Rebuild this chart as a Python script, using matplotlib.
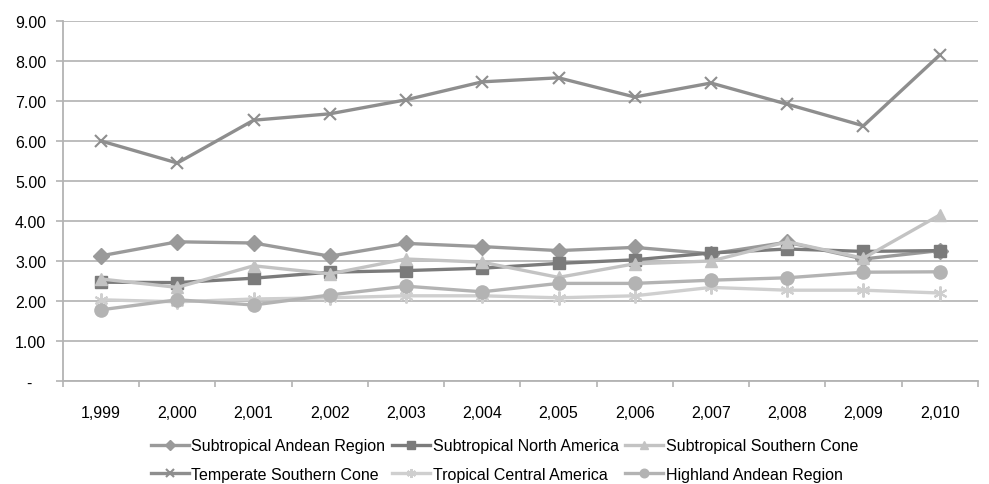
import numpy as np
import matplotlib.pyplot as plt
from matplotlib.ticker import FixedLocator, FuncFormatter

plt.rcParams['font.family'] = ['Liberation Sans', 'DejaVu Sans']

# data
years = ['1,999', '2,000', '2,001', '2,002', '2,003', '2,004',
         '2,005', '2,006', '2,007', '2,008', '2,009', '2,010']
subtrop_andean = [3.13, 3.48, 3.45, 3.12, 3.44, 3.36, 3.26, 3.34, 3.18, 3.47, 3.05, 3.26]
subtrop_namerica = [2.47, 2.46, 2.57, 2.72, 2.76, 2.82, 2.94, 3.03, 3.20, 3.30, 3.24, 3.26]
subtrop_scone = [2.55, 2.34, 2.88, 2.68, 3.05, 2.97, 2.59, 2.93, 3.00, 3.48, 3.07, 4.15]
temperate_scone = [6.00, 5.45, 6.52, 6.68, 7.03, 7.48, 7.58, 7.10, 7.45, 6.92, 6.38, 8.15]
trop_camerica = [2.03, 1.98, 2.05, 2.08, 2.13, 2.13, 2.08, 2.13, 2.34, 2.27, 2.27, 2.20]
highland_andean = [1.78, 2.03, 1.90, 2.15, 2.37, 2.23, 2.44, 2.44, 2.52, 2.58, 2.72, 2.73]

x = np.arange(len(years))

fig = plt.figure(figsize=(9.89, 4.85), dpi=100)
ax = fig.add_axes([0.0637, 0.2124, 0.925, 0.7422])

lw = 2.4
la, = ax.plot(x, subtrop_andean, color='#9a9a9a', lw=lw, marker='D', ms=8,
              label='Subtropical Andean Region')
ln, = ax.plot(x, subtrop_namerica, color='#7b7b7b', lw=lw, marker='s', ms=9,
              label='Subtropical North America')
ls, = ax.plot(x, subtrop_scone, color='#c3c3c3', lw=lw, marker='^', ms=9,
              label='Subtropical Southern Cone')
lt, = ax.plot(x, temperate_scone, color='#8e8e8e', lw=lw, marker='x', ms=9,
              mew=1.5, label='Temperate Southern Cone')
ltr, = ax.plot(x, trop_camerica, color='#cfcfcf', lw=lw, marker=(6, 2, 0), ms=10,
               mew=1.5, label='Tropical Central America')
lh, = ax.plot(x, highland_andean, color='#b3b3b3', lw=lw, marker='o', ms=9.5,
              label='Highland Andean Region')

ax.set_xlim(-0.5, len(years) - 0.5)
ax.set_ylim(0, 9)
ax.set_yticks(np.arange(0, 10, 1))
ax.yaxis.set_major_formatter(FuncFormatter(lambda v, p: '-   ' if v == 0 else '%.2f' % v))
ax.set_xticks(x)
ax.set_xticklabels(years)
ax.xaxis.set_minor_locator(FixedLocator(np.arange(-0.5, len(years), 1)))
ax.tick_params(axis='x', which='major', length=0, pad=17, labelsize=11.5)
ax.tick_params(axis='x', which='minor', length=4, color='#b3b3b3', width=1.2)
ax.tick_params(axis='y', length=5, color='#b3b3b3', width=1.2, pad=7, labelsize=11.5)

ax.grid(axis='y', color='#b8b8b8', lw=1.3)
ax.set_axisbelow(True)
for s in ['top', 'right']:
    ax.spines[s].set_visible(False)
ax.spines['left'].set_color('#b3b3b3')
ax.spines['left'].set_linewidth(1.3)
ax.spines['bottom'].set_color('#b3b3b3')
ax.spines['bottom'].set_linewidth(1.3)

handles = [la, lt, ln, ltr, ls, lh]
fig.legend(handles=handles, labels=[h.get_label() for h in handles],
           loc='lower center', bbox_to_anchor=(0.51, -0.025), ncol=3, frameon=False,
           fontsize=11.5, handlelength=2.4, handletextpad=0.15, columnspacing=0.4,
           labelspacing=0.85, markerscale=0.65)

plt.savefig('out.png', dpi=100)
